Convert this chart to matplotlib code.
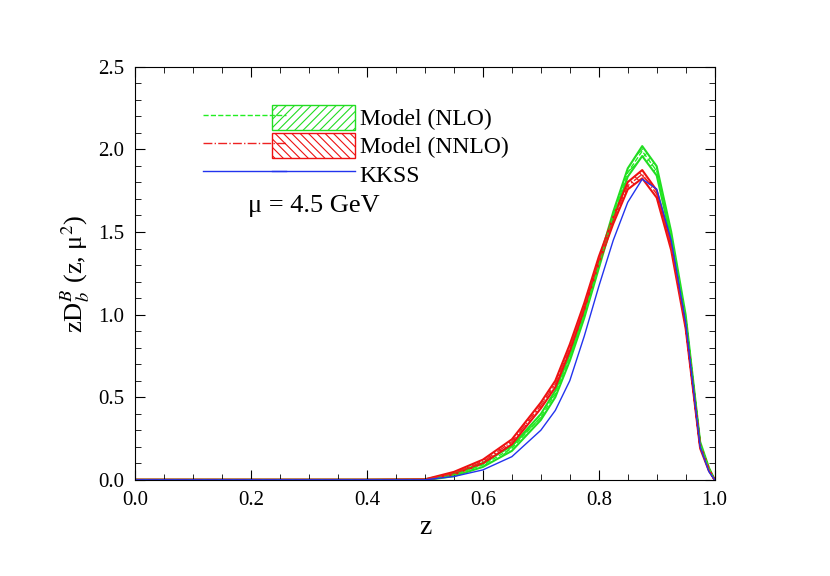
import numpy as np
from matplotlib import pyplot as plt
from matplotlib.ticker import MultipleLocator

plt.rcParams["font.family"] = "Liberation Serif"
plt.rcParams["mathtext.fontset"] = "stix"
plt.rcParams["hatch.linewidth"] = 0.8

z = [0.0, 0.3, 0.5, 0.55, 0.6, 0.65, 0.7, 0.725, 0.75, 0.775, 0.8, 0.825, 0.85,
     0.875, 0.9, 0.925, 0.95, 0.975, 0.99, 1.0]
nlo = [0.0, 0.0, 0.0, 0.03, 0.09, 0.19, 0.38, 0.52, 0.74, 1.0, 1.3, 1.6, 1.86,
       1.99, 1.87, 1.48, 0.98, 0.22, 0.07, 0.0]
nlo_err = [0.0, 0.0, 0.003, 0.008, 0.012, 0.015, 0.018, 0.02, 0.02, 0.02, 0.02, 0.022,
           0.025, 0.03, 0.028, 0.022, 0.018, 0.01, 0.005, 0.0]
nnlo = [0.0, 0.0, 0.0, 0.04, 0.11, 0.23, 0.45, 0.58, 0.8, 1.05, 1.33, 1.57, 1.78,
        1.85, 1.73, 1.41, 0.93, 0.2, 0.06, 0.0]
nnlo_err = [0.0, 0.0, 0.003, 0.008, 0.012, 0.015, 0.018, 0.02, 0.02, 0.02, 0.02, 0.02,
            0.022, 0.025, 0.022, 0.02, 0.015, 0.01, 0.005, 0.0]
kkss = [0.0, 0.0, 0.0, 0.02, 0.06, 0.14, 0.3, 0.42, 0.6, 0.87, 1.17, 1.45, 1.68,
        1.82, 1.76, 1.45, 0.95, 0.2, 0.05, 0.0]

z = np.array(z)
nlo, nlo_err = np.array(nlo), np.array(nlo_err)
nnlo, nnlo_err = np.array(nnlo), np.array(nnlo_err)

fig = plt.figure(figsize=(8.3, 5.76), dpi=100)
ax = fig.add_axes([0.163, 0.167, 0.698, 0.717])

ax.fill_between(z, nlo - nlo_err, nlo + nlo_err, facecolor="none",
                edgecolor="#22dd22", hatch="////", lw=1.5)
ax.fill_between(z, nnlo - nnlo_err, nnlo + nnlo_err, facecolor="none",
                edgecolor="#ee1111", hatch="\\\\\\\\", lw=1.5)
ax.plot(z, nlo, "--", color="#22ee22", lw=1)
ax.plot(z, nnlo, "-.", color="#ee2222", lw=1)
ax.plot(z, kkss, "-", color="#2233ee", lw=1)

# legend: lines column, then boxes + labels column
hn = ax.fill_between([], [], [], facecolor="none", edgecolor="#22dd22", hatch="////")
hr = ax.fill_between([], [], [], facecolor="none", edgecolor="#ee1111", hatch="\\\\\\\\")
ln, = ax.plot([], [], "--", color="#22ee22", lw=1)
lr, = ax.plot([], [], "-.", color="#ee2222", lw=1)
lk, = ax.plot([], [], "-", color="#2233ee", lw=1)
leg1 = ax.legend([ln, lr, lk], [" ", " ", " "], loc="upper left",
                 bbox_to_anchor=(0.08, 0.96), frameon=False, handlelength=3.5,
                 fontsize=17, labelspacing=0.1, handleheight=1.3)
ax.add_artist(leg1)
ax.legend([hn, hr, lk], ["Model (NLO)", "Model (NNLO)", "KKSS"], loc="upper left",
          bbox_to_anchor=(0.2, 0.96), frameon=False, handlelength=3.5,
          handleheight=1.3, fontsize=17, labelspacing=0.1, handletextpad=0.2)
ax.text(0.195, 1.62, "μ = 4.5 GeV", fontsize=19)

ax.set_xlim(0, 1)
ax.set_ylim(0, 2.5)
ax.xaxis.set_major_locator(MultipleLocator(0.2))
ax.xaxis.set_minor_locator(MultipleLocator(0.05))
ax.yaxis.set_major_locator(MultipleLocator(0.5))
ax.yaxis.set_minor_locator(MultipleLocator(0.1))
ax.tick_params(which="both", direction="in", top=True, right=True, labelsize=15, pad=8)
ax.tick_params(which="major", length=7)
ax.tick_params(which="minor", length=4)
ax.set_xlabel("z", fontsize=20)
ax.set_ylabel(r"zD$_b^B$ (z, μ$^2$)", fontsize=19)

fig.savefig("out.png")
